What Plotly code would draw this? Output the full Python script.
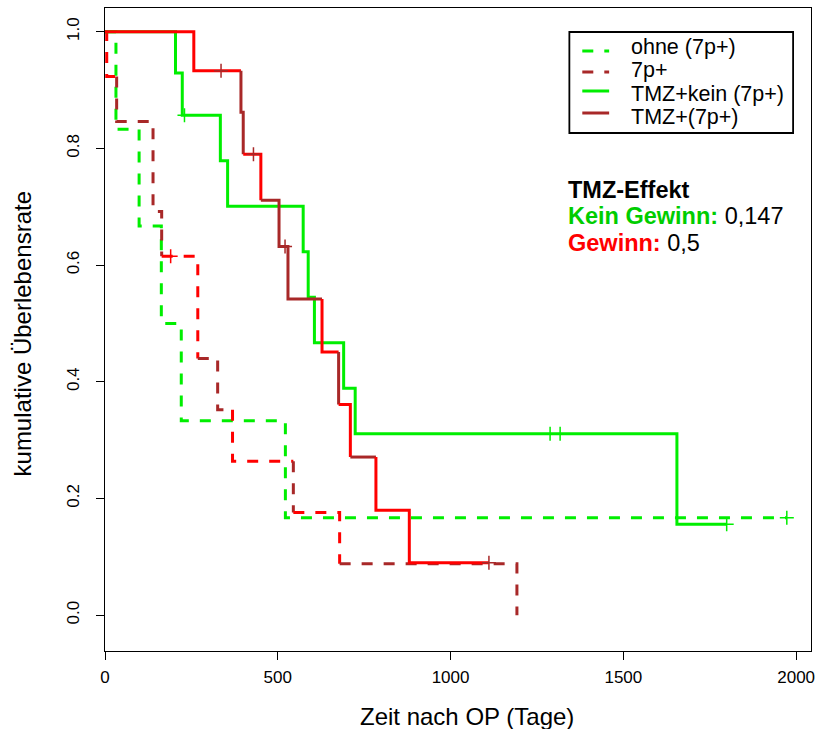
import plotly.graph_objects as go

# ---- Kaplan-Meier data: event times (days after surgery) and survival after each event
ohne_times = [31.7, 98.7, 163, 220.7, 522]
ohne_surv = [0.833, 0.667, 0.5, 0.333, 0.167]
ohne_censor = [1973]

p7_times = [5, 33.7, 139, 164, 268.5, 326, 369, 545, 679, 1192]
p7_surv = [0.923, 0.846, 0.692, 0.615, 0.44, 0.352, 0.264, 0.176, 0.088, 0.0]
p7_censor = [190]

kein_times = [204, 223.6, 333.8, 354.8, 573.5, 588, 606, 690.6, 724, 1655]
kein_surv = [0.929, 0.857, 0.779, 0.701, 0.623, 0.545, 0.467, 0.389, 0.311, 0.156]
kein_censor = [230, 1288, 1317, 1799]

tmz_times = [257, 393.4, 400, 451, 503.6, 529.5, 628, 676, 710, 784, 880.6]
tmz_surv = [0.933, 0.862, 0.79, 0.711, 0.632, 0.542, 0.451, 0.361, 0.271, 0.180, 0.090]
tmz_censor = [335.8, 429.6, 521, 1111]

legend_labels = ["ohne (7p+)", "7p+", "TMZ+kein (7p+)", "TMZ+(7p+)"]
x_ticks = [0, 500, 1000, 1500, 2000]
y_ticks = [0.0, 0.2, 0.4, 0.6, 0.8, 1.0]

# ---- styles
GREEN = "#00ee00"
RED = "#ff0000"
DARKRED = "#a82828"
FONT = "Liberation Sans, Arial, sans-serif"
DASH = "11px,11px"
LW = 3

# colour of each step piece (horizontal, vertical, ...) for the two red curves
p7_pieces = "RRRDDDDDRRDDDRRDRRDD"
tmz_pieces = "RRRDDDRRDDDDDRRDRRDRRRR"
PIECE_COLOR = {"R": RED, "D": DARKRED, "G": GREEN}

# plot-area geometry in pixels (used for legend / text placement)
PX_L, PX_R, PX_T, PX_B = 105, 815, 8, 651


def px_to_paper(px, py):
    return (px - PX_L) / (PX_R - PX_L), (PX_B - py) / (PX_B - PX_T)


def step_pieces(times, surv, end):
    pieces = []
    x0, y0 = 0.0, 1.0
    for t, s in zip(times, surv):
        pieces.append(([x0, t], [y0, y0]))
        pieces.append(([t, t], [y0, s]))
        x0, y0 = t, s
    if end > x0:
        pieces.append(([x0, end], [y0, y0]))
    return pieces


def surv_at(times, surv, t):
    val = 1.0
    for ti, si in zip(times, surv):
        if ti <= t:
            val = si
    return val


fig = go.Figure()


def add_curve(times, surv, censor, pattern, dash, censor_color):
    pieces = step_pieces(times, surv, max(censor))
    if len(pattern) == 1:
        pattern = pattern * len(pieces)
    # group consecutive pieces of the same colour into one path
    runs = []
    for (xs, ys), code in zip(pieces, pattern):
        if runs and runs[-1][0] == code:
            runs[-1][1].append(xs[1])
            runs[-1][2].append(ys[1])
        else:
            runs.append([code, list(xs), list(ys)])
    for code, xs, ys in runs:
        fig.add_trace(go.Scatter(
            x=xs, y=ys, mode="lines",
            line=dict(color=PIECE_COLOR[code], width=LW, dash=dash),
            hoverinfo="skip"))
    fig.add_trace(go.Scatter(
        x=censor, y=[surv_at(times, surv, c) for c in censor], mode="markers",
        marker=dict(symbol="cross-thin", size=10,
                    line=dict(color=censor_color, width=1.5)),
        hoverinfo="skip"))


add_curve(ohne_times, ohne_surv, ohne_censor, "G", DASH, GREEN)
add_curve(p7_times, p7_surv, p7_censor, p7_pieces, DASH, RED)
add_curve(kein_times, kein_surv, kein_censor, "G", "solid", GREEN)
add_curve(tmz_times, tmz_surv, tmz_censor, tmz_pieces, "solid", DARKRED)

axis_common = dict(
    showline=True, linecolor="black", linewidth=1.3, mirror=True,
    ticks="outside", ticklen=8, tickwidth=1.3, tickcolor="black",
    showgrid=False, zeroline=False,
    tickfont=dict(family=FONT, size=17, color="black"),
)

fig.update_layout(
    width=819, height=729,
    margin=dict(l=PX_L, r=819 - PX_R, t=PX_T, b=729 - PX_B),
    plot_bgcolor="white", paper_bgcolor="white",
    showlegend=False,
    xaxis=dict(range=[0, 2043], tickvals=x_ticks, ticklabelstandoff=2, **axis_common),
    yaxis=dict(range=[-0.0614, 1.0406], tickvals=y_ticks, tickformat=".1f",
               tickangle=-90, ticklabelstandoff=10, **axis_common),
)

annotations = []
shapes = []

# axis titles
tx, ty = px_to_paper(469, 716)
annotations.append(dict(x=tx, y=ty, xref="paper", yref="paper", text="Zeit nach OP (Tage)",
                        showarrow=False, xanchor="center", yanchor="middle",
                        font=dict(family=FONT, size=24, color="black")))
tx, ty = px_to_paper(22, 334)
annotations.append(dict(x=tx, y=ty, xref="paper", yref="paper", text="kumulative Überlebensrate",
                        showarrow=False, xanchor="center", yanchor="middle", textangle=-90,
                        font=dict(family=FONT, size=24, color="black")))

# legend box
x0, y0 = px_to_paper(572, 133)
x1, y1 = px_to_paper(797, 32)
shapes.append(dict(type="rect", xref="paper", yref="paper", x0=x0, y0=y0, x1=x1, y1=y1,
                   line=dict(color="black", width=1.8), fillcolor="white", layer="above"))
legend_styles = [(GREEN, DASH), (DARKRED, DASH), (GREEN, "solid"), (DARKRED, "solid")]
line_rows = [51, 72, 91, 113]
text_rows = [47, 70, 94, 117]
for label, (col, dash), ly, ty_ in zip(legend_labels, legend_styles, line_rows, text_rows):
    a0, b0 = px_to_paper(585, ly)
    a1, _ = px_to_paper(612, ly)
    shapes.append(dict(type="line", xref="paper", yref="paper", x0=a0, y0=b0, x1=a1, y1=b0,
                       line=dict(color=col, width=LW, dash=dash), layer="above"))
    ax, ay = px_to_paper(632, ty_)
    annotations.append(dict(x=ax, y=ay, xref="paper", yref="paper", text=label,
                            showarrow=False, xanchor="left", yanchor="middle",
                            font=dict(family=FONT, size=21.5, color="black")))

# test results
effect_lines = [
    "<b>TMZ-Effekt</b>",
    "<b><span style='color:#00cd00'>Kein Gewinn:</span></b> 0,147",
    "<b><span style='color:#ff0000'>Gewinn:</span></b> 0,5",
]
for txt, py in zip(effect_lines, [190, 216, 243]):
    ax, ay = px_to_paper(569, py)
    annotations.append(dict(x=ax, y=ay, xref="paper", yref="paper", text=txt,
                            showarrow=False, xanchor="left", yanchor="middle",
                            font=dict(family=FONT, size=23.5, color="black")))

fig.update_layout(annotations=annotations, shapes=shapes)
fig.write_html("out.html")
